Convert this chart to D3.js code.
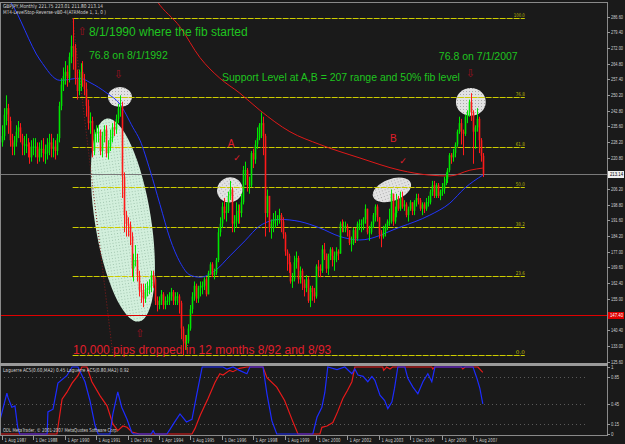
<!DOCTYPE html>
<html>
<head>
<meta charset="utf-8">
<script src="https://cdn.jsdelivr.net/npm/d3@7"></script>
<style>
html, body { margin: 0; padding: 0; background: #1a1a1a; }
svg { display: block; }
</style>
</head>
<body>
<script>
// monthly GBPJPY bars, Aug 1987 .. Jan 2008 (open = previous close)
const firstOpen = 228;
const closes = [
  231,241,244,238,229,
  226,228,233,235,230,227,227,227,226,221,226,226,
  226,221,225,225,223,223,227,228,225,226,224,230,
  245,255,259,261,258,268,273,272,258,252,258,261,
  257,253,245,237,238,224,232,233,233,224,231,234,
  223,226,230,235,234,239,244,245,212,194,190,189,
  184,169,173,173,166,159,158,155,159,160,161,166,
  164,154,152,154,157,152,154,154,156,158,154,156,
  156,153,141,135,134,135,141,150,156,161,155,160,
  161,161,164,157,167,171,166,167,173,186,190,198,
  195,196,203,206,190,191,194,196,195,200,215,215,
  208,208,223,220,227,230,236,237,231,195,203,188,
  190,192,192,192,194,191,185,177,175,171,163,164,
  172,174,164,168,162,160,164,154,160,158,156,170,
  169,168,178,176,169,175,178,173,175,177,176,190,
  189,189,189,187,181,181,187,183,190,190,190,192,
  197,186,186,190,194,198,193,185,184,186,189,191,
  191,204,191,195,201,197,202,198,199,194,197,200,
  196,200,202,201,197,199,197,200,200,205,208,203,
  208,203,205,206,209,211,215,222,221,223,227,233,
  237,233,232,240,242,247,242,233,235,239,229,221.75,
  213.14
];
const highs = [
  236,244,250,246,240,
  232,231,236,238,237,232,231,232,230,228,229,230,
  230,228,228,229,230,227,230,232,232,230,229,232,
  247,258,263,266,264,270,278,286,274,262,262,265,
  266,260,256,248,242,240,234,236,236,234,233,236,
  236,229,234,237,238,241,246,250,247,214,196,193,
  191,186,176,180,176,168,162,162,162,163,164,168,
  168,165,156,156,159,158,156,157,158,160,159,158,
  158,157,154,142,138,138,143,152,158,163,162,161,
  163,163,165,165,168,172,172,169,174,188,193,200,
  202,200,205,210,207,194,200,199,199,204,217,219,
  216,212,224,225,229,235,237,242,240,232,206,203,
  192,195,196,194,197,195,193,186,178,176,172,167,
  175,177,175,170,169,164,166,165,161,161,160,171,
  173,171,180,181,176,176,179,179,177,179,178,191,
  192,191,191,190,187,184,188,188,191,192,192,193,
  199,197,189,191,195,199,199,193,187,189,190,192,
  197,206,204,198,204,203,205,205,201,200,198,201,
  200,201,204,204,202,200,200,202,203,206,210,210,
  209,209,206,209,212,214,216,223,223,225,228,234,
  240,239,234,241,243,248,251,243,236,244,240,230,
  223.01
];
const lows = [
  226,229,236,232,226,
  222,222,226,230,228,222,222,223,221,218,219,222,
  221,218,219,221,219,218,220,222,221,221,220,222,
  228,243,252,255,254,256,265,262,255,248,250,252,
  254,250,240,234,232,221,222,228,228,222,221,228,
  221,220,224,228,231,232,237,240,202,186,184,184,
  180,165,163,170,163,156,153,151,153,156,157,158,
  160,152,149,150,152,150,150,152,152,154,152,152,
  152,148,136,128.6,131,131,134,140,148,154,153,153,
  156,157,159,156,157,166,165,164,166,172,184,188,
  192,191,195,201,186,186,188,190,190,193,199,208,
  205,204,207,216,218,225,229,230,222,184,193,186,
  183,186,188,189,190,186,183,175,168,167,162,160,
  163,169,162,162,159,156,158,153,151,154,153,155,
  165,165,167,173,167,166,173,170,168,172,173,176,
  186,186,186,184,180,177,180,181,182,187,186,187,
  190,185,182,185,188,191,191,183,179,183,184,187,
  189,190,189,190,193,196,196,197,196,193,191,196,
  194,194,198,199,196,194,195,196,198,199,203,202,
  202,202,201,203,204,208,209,214,218,219,221,226,
  232,227,222,231,237,240,238,218,225,233,223,219,
  211.80
];

// moving averages: [month index, price]
const blueMA = [[-2,300],[4,294],[19.4,266.5],[29.5,257],[39.7,258],[44.8,256],[53.5,251],[60,246],[66.7,235],
  [70.3,229],[75.4,215],[80.5,199],[85.6,183],[90.7,172],[95.8,166],[100.9,165],[108.5,168],[116.2,175],
  [123.8,182],[131.4,189],[141.6,192],[151.8,191],[162,188],[172.2,184],[182.4,182.4],[202.8,188.4],
  [218,194],[228.2,199.6],[235.9,206.7],[245,212.7]];
const redMA = [[75,300],[79,294],[90.7,282],[100.9,267.6],[111,258],[121.2,251],[131.4,243],[146.7,233],
  [162,227],[182.4,220.7],[202.8,215],[218,212.7],[228.2,212.3],[238.4,215],[245,216]];

// Laguerre ACS lines: [month index, value]
const lagFast = [[-1,0.21],[2.5,0.61],[3,0.55],[5,0.4],[6.6,0.42],[8,0.1],[9,0],[23,0],[23.4,0.33],[26,0.37],
  [28.5,0.76],[33,0.87],[35.7,1],[38.7,1],[42.3,0.78],[44.8,0.5],[47.4,0.13],[49,0],[55,0],[56.5,0.3],[59,0.63],
  [61,0.4],[63.7,0.22],[66.2,0.02],[67,0],[76,0],[77,0.05],[78,0],[84,0],[85.6,0.07],[88,0.18],[90.7,0.3],
  [94,0.18],[96.8,0.22],[99.3,0.6],[102,1],[112.6,1],[114.6,0.97],[117.7,1],[121,0.95],[124.8,0.9],[126.3,1],
  [133,1],[135,0.6],[137.5,0.2],[140,0],[158.4,0],[160.5,0.25],[163,0.4],[164.5,0.62],[166,1],[170.7,0.96],
  [174.7,1],[178.3,0.9],[179.8,0.97],[181.4,0.88],[184,0.86],[186.4,0.78],[188.5,0.86],[190,0.8],[192.6,0.58],
  [195,0.5],[196.6,0.38],[198.7,0.48],[200,0.68],[201.7,1],[205.3,1],[206.8,0.83],[209.4,0.7],[211.9,0.6],
  [214.5,0.78],[217,0.9],[219,0.78],[220.6,1],[240,1],[242,0.83],[243.5,0.68],[245,0.45]];
const lagSlow = [[-1,0],[28,0],[30.6,0.52],[33,0.62],[35.7,0.76],[38.7,0.87],[40.7,1],[43.3,1],[45.8,0.78],
  [50,0.57],[53.5,0.42],[56.5,0.15],[59,0.05],[61.6,0.12],[63.7,0.1],[66.2,0.03],[70,0],[96.8,0],[98.3,0.08],
  [101,0.28],[105,0.53],[108.5,0.77],[111,0.9],[112.6,0.88],[116,0.95],[117.7,0.93],[121,0.98],[124.8,1],
  [133,1],[135,0.84],[140,0.7],[144,0.5],[148,0.2],[150.8,0],[162,0],[163,0.1],[165.6,0.12],[168.6,0.17],
  [171,0.33],[173.7,0.53],[176,0.65],[178.3,0.78],[179.8,1],[194,1],[194.5,0.95],[196,1],[197.7,0.97],[199,1],
  [219,1],[219.5,0.97],[220.5,1],[234,1],[234.8,0.97],[236,1],[242.5,1],[245,0.92]];

const timeLabels = ["1 Aug 1987","1 Dec 1988","1 Apr 1990","1 Aug 1991","1 Dec 1992","1 Apr 1994",
  "1 Aug 1995","1 Dec 1996","1 Apr 1998","1 Aug 1999","1 Dec 2000","1 Apr 2002","1 Aug 2003",
  "1 Dec 2004","1 Apr 2006","1 Aug 2007"];
const priceTicks = [286.60,279.40,272.00,264.80,257.40,250.20,242.80,235.60,228.20,220.80,
  206.20,198.80,191.60,184.20,177.00,169.60,162.40,155.00,140.40,133.00,125.60];
const indTicks = [1, 0.85, 0.45, 0.15, 0];
const indGrid = [0.85, 0.45, 0.15];

const fibLevels = [0, 23.6, 38.2, 50, 61.8, 76.8, 100];
const fibLabels = ["0.0","23.6","38.2","50.0","61.8","76.8","100.0"];
const fibLow = 128.6, fibHigh = 285.9, fibStartIdx = 36, fibLowIdx = 56.5, fibEndIdx = 266.4;
const supportPrice = 147.40;
const lastPrice = 213.14;

// annotations in chart units (month index, price)
const ellipses = [
  { i: 61.6, p: 191.7, rx: 14.3, ry: 48, rot: -9, fill: "url(#dotsGreen)" },
  { i: 60.1, p: 249.2, rx: 6.1, ry: 4.7, rot: 0, fill: "url(#dotsGrey)" },
  { i: 116.1, p: 205.8, rx: 6.6, ry: 5.8, rot: -35, fill: "url(#dotsGrey)" },
  { i: 198.7, p: 205.8, rx: 10.2, ry: 5.1, rot: -20, fill: "url(#dotsGrey)" },
  { i: 238.9, p: 246.9, rx: 7.6, ry: 6.5, rot: 0, fill: "url(#dotsGrey)" }
];
const greenNotes = [
  { i: 44.3, p: 277.9, text: "8/1/1990 where the fib started", size: 12 },
  { i: 44.3, p: 267.0, text: "76.8 on 8/1/1992", size: 10.5 },
  { i: 112.1, p: 256.6, text: "Support Level at A,B = 207 range and 50% fib level", size: 10.5 },
  { i: 222.6, p: 266.6, text: "76.8 on 7/1/2007", size: 10.5 }
];
const redNotes = [
  { i: 115, p: 225.8, text: "A", size: 10 },
  { i: 197.7, p: 228.2, text: "B", size: 10 },
  { i: 36.2, p: 129.2, text: "10,000 pips dropped   in 12 months 8/92 and 8/93", size: 12 }
];
const arrows = [
  { i: 40.8, p: 279.6, dir: "up" },
  { i: 59.3, p: 259.5, dir: "down" },
  { i: 238.7, p: 260.0, dir: "down" },
  { i: 70.3, p: 138.5, dir: "up" }
];
const checks = [ { i: 119.7, p: 220.7 }, { i: 204.3, p: 219.3 } ];

const W = 625, H = 444;
const axisX = 607, mainTop = 3, mainBottom = 363, indTop = 366, indBottom = 435;
const smallFont = "5.3px 'DejaVu Sans'";
const axisFont = "4.8px 'Liberation Sans', Arial, sans-serif";

const x = d3.scaleLinear().domain([0, 240]).range([2, 473]);
const y = d3.scaleLinear().domain([125.6, 286.6]).range([361.5, 17]);
const yi = d3.scaleLinear().domain([0, 1]).range([434, 367]);

const svg = d3.select("body").append("svg").attr("width", W).attr("height", H);
const defs = svg.append("defs");

const pg = defs.append("pattern").attr("id", "dotsGrey").attr("width", 3).attr("height", 3)
  .attr("patternUnits", "userSpaceOnUse");
pg.append("rect").attr("width", 3).attr("height", 3).attr("fill", "#e2e2e2");
pg.append("rect").attr("x", 1).attr("y", 1).attr("width", 1).attr("height", 1).attr("fill", "#a9a9a9");
const pgr = defs.append("pattern").attr("id", "dotsGreen").attr("width", 3).attr("height", 3)
  .attr("patternUnits", "userSpaceOnUse");
pgr.append("rect").attr("width", 3).attr("height", 3).attr("fill", "#d2efdc");
pgr.append("rect").attr("x", 1).attr("y", 1).attr("width", 1).attr("height", 1).attr("fill", "#9fc4ad");

defs.append("clipPath").attr("id", "clipMain").append("rect")
  .attr("x", 1).attr("y", mainTop).attr("width", axisX - 1).attr("height", mainBottom - mainTop);
defs.append("clipPath").attr("id", "clipInd").append("rect")
  .attr("x", 1).attr("y", indTop).attr("width", axisX - 1).attr("height", indBottom - indTop);

svg.append("rect").attr("width", W).attr("height", H).attr("fill", "#1a1a1a");

const main = svg.append("g").attr("clip-path", "url(#clipMain)");

// helper: squeeze tiny terminal-style labels to their width in the screenshot
function fitText(sel, w) {
  return sel.attr("textLength", w).attr("lengthAdjust", "spacingAndGlyphs");
}

// ellipses
ellipses.forEach(e => {
  const cx = x(e.i), cy = y(e.p);
  main.append("ellipse")
    .attr("cx", cx).attr("cy", cy)
    .attr("rx", x(e.rx) - x(0)).attr("ry", y(0) - y(e.ry))
    .attr("transform", `rotate(${e.rot},${cx},${cy})`)
    .attr("fill", e.fill);
});

// horizontal lines
main.append("line").attr("x1", 0).attr("x2", axisX)
  .attr("y1", Math.round(y(supportPrice)) + 0.5).attr("y2", Math.round(y(supportPrice)) + 0.5)
  .attr("stroke", "#e00000").attr("stroke-width", 1);
main.append("line").attr("x1", 0).attr("x2", axisX)
  .attr("y1", Math.round(y(lastPrice)) + 0.5).attr("y2", Math.round(y(lastPrice)) + 0.5)
  .attr("stroke", "#7a7a7a").attr("stroke-width", 1);

// fibonacci levels + its dotted base line
main.append("line")
  .attr("x1", x(fibStartIdx)).attr("y1", y(fibHigh)).attr("x2", x(fibLowIdx)).attr("y2", y(fibLow))
  .attr("stroke", "#8e1a1a").attr("stroke-width", 1).attr("stroke-dasharray", "1,2");
const fibY = lv => y(fibLow + (fibHigh - fibLow) * lv / 100);
fibLevels.forEach((lv, k) => {
  const yy = Math.round(fibY(lv)) + 0.5;
  main.append("line").attr("x1", x(fibStartIdx)).attr("x2", x(fibEndIdx))
    .attr("y1", yy).attr("y2", yy)
    .attr("stroke", "#cccc00").attr("stroke-width", 1).attr("stroke-dasharray", "6,1");
  fitText(main.append("text").attr("x", x(fibEndIdx) - (lv === 100 ? 11 : 9)).attr("y", yy - 1.5)
    .attr("fill", "#b8b800").style("font", "5px 'DejaVu Sans'").text(fibLabels[k]), lv === 100 ? 11 : 9);
});

// moving averages
const maLine = d3.line().x(d => x(d[0])).y(d => y(d[1])).curve(d3.curveMonotoneX);
main.append("path").attr("d", maLine(redMA)).attr("fill", "none").attr("stroke", "#e01818").attr("stroke-width", 1);
main.append("path").attr("d", maLine(blueMA)).attr("fill", "none").attr("stroke", "#2236ff").attr("stroke-width", 1);

// candles
const bars = closes.map((c, i) => ({ i, o: i ? closes[i - 1] : firstOpen, h: highs[i], l: lows[i], c }));
const cg = main.append("g");
bars.forEach(b => {
  const col = b.c >= b.o ? "#00e600" : "#ff1a1a";
  const cx = Math.round(x(b.i)) + 0.5;
  cg.append("line").attr("x1", cx).attr("x2", cx).attr("y1", y(b.h)).attr("y2", y(b.l))
    .attr("stroke", col).attr("stroke-width", 1);
  const top = y(Math.max(b.o, b.c)), bot = y(Math.min(b.o, b.c));
  cg.append("rect").attr("x", cx - 0.8).attr("y", top).attr("width", 1.6)
    .attr("height", Math.max(1, bot - top)).attr("fill", col);
});

// text annotations
greenNotes.forEach(n => {
  main.append("text").attr("x", x(n.i)).attr("y", y(n.p)).attr("fill", "#1fc41f")
    .style("font", `${n.size}px 'Liberation Sans', Arial, sans-serif`).text(n.text);
});
redNotes.forEach(n => {
  main.append("text").attr("x", x(n.i)).attr("y", y(n.p)).attr("fill", "#e01e2a")
    .style("font", `${n.size}px 'Liberation Sans', Arial, sans-serif`).text(n.text);
});
arrows.forEach(a => {
  main.append("text").attr("x", x(a.i)).attr("y", y(a.p)).attr("text-anchor", "middle")
    .attr("dominant-baseline", "central").attr("fill", "#9b1020")
    .style("font", "11px 'DejaVu Sans'").text(a.dir === "up" ? "\u21e7" : "\u21e9");
});
checks.forEach(c => {
  main.append("text").attr("x", x(c.i)).attr("y", y(c.p)).attr("text-anchor", "middle")
    .attr("dominant-baseline", "central").attr("fill", "#e01e2a")
    .style("font", "9px 'DejaVu Sans'").text("\u2713");
});

// header text
const hdr = svg.append("g").style("font", smallFont).attr("fill", "#d4d4d4");
fitText(hdr.append("text").attr("x", 3).attr("y", 8).text("GBPJPY,Monthly  221.75 223.01 211.80 213.14"), 100);
fitText(hdr.append("text").attr("x", 3).attr("y", 14).text("MT4-LevelStop-Reverse-vB0-4(ATRMode 1, 1, 0 )"), 103);

// indicator panel
const ind = svg.append("g").attr("clip-path", "url(#clipInd)");
indGrid.forEach(v => {
  ind.append("line").attr("x1", 0).attr("x2", axisX - 20)
    .attr("y1", Math.round(yi(v)) + 0.5).attr("y2", Math.round(yi(v)) + 0.5)
    .attr("stroke", "#5a5a5a").attr("stroke-dasharray", "1,3");
});
const lagLine = d3.line().x(d => x(d[0])).y(d => yi(d[1]));
ind.append("path").attr("d", lagLine(lagSlow)).attr("fill", "none").attr("stroke", "#e81a1a").attr("stroke-width", 1.2);
ind.append("path").attr("d", lagLine(lagFast)).attr("fill", "none").attr("stroke", "#1d2cff").attr("stroke-width", 1.2);
const indTxt = svg.append("g").style("font", smallFont).attr("fill", "#d4d4d4");
fitText(indTxt.append("text").attr("x", 3).attr("y", 372)
  .text("Laguerre ACS(0.60,MA2) 0.45  Laguerre ACS(0.80,MA2) 0.92"), 126);
fitText(indTxt.append("text").attr("x", 3).attr("y", 432)
  .text("ODL MetaTrader, \u00a9 2001-2007 MetaQuotes Software Corp."), 115);

// frame and separator
svg.append("rect").attr("x", 0.5).attr("y", 2.5).attr("width", axisX).attr("height", indBottom - 2)
  .attr("fill", "none").attr("stroke", "#8a8a8a");
svg.append("rect").attr("x", 0).attr("y", mainBottom).attr("width", axisX + 1).attr("height", 3)
  .attr("fill", "#9a9a9a");

// price axis
const ax = svg.append("g").style("font", axisFont);
priceTicks.forEach(v => {
  const yy = Math.round(y(v)) + 0.5;
  ax.append("line").attr("x1", axisX).attr("x2", axisX + 3).attr("y1", yy).attr("y2", yy).attr("stroke", "#9a9a9a");
  fitText(ax.append("text").attr("x", axisX + 4).attr("y", yy + 1.8).attr("fill", "#cfcfcf").text(v.toFixed(2)), 12);
});
[[lastPrice, "#f0f0f0", "#000"], [supportPrice, "#e00000", "#fff"]].forEach(([v, bg, fg]) => {
  const yy = Math.round(y(v)) + 0.5;
  ax.append("rect").attr("x", axisX + 1).attr("y", yy - 3.5).attr("width", 16).attr("height", 7).attr("fill", bg);
  fitText(ax.append("text").attr("x", axisX + 3).attr("y", yy + 1.8).attr("fill", fg).text(v.toFixed(2)), 13);
});
indTicks.forEach(v => {
  const yy = Math.round(yi(v)) + 0.5;
  const label = v === 1 || v === 0 ? String(v) : v.toFixed(2);
  ax.append("line").attr("x1", axisX).attr("x2", axisX + 3).attr("y1", yy).attr("y2", yy).attr("stroke", "#9a9a9a");
  fitText(ax.append("text").attr("x", axisX + 4).attr("y", yy + 1.8).attr("fill", "#cfcfcf").text(label),
    label.length > 1 ? 8 : 2.5);
});

// time axis
const tx = svg.append("g").style("font", smallFont);
timeLabels.forEach((t, k) => {
  const xx = Math.round(x(k * 16)) + 0.5;
  tx.append("line").attr("x1", xx).attr("x2", xx).attr("y1", indBottom + 1).attr("y2", indBottom + 5).attr("stroke", "#9a9a9a");
  fitText(tx.append("text").attr("x", xx + 2).attr("y", 442).attr("fill", "#cfcfcf").text(t), 22);
});
</script>
</body>
</html>
